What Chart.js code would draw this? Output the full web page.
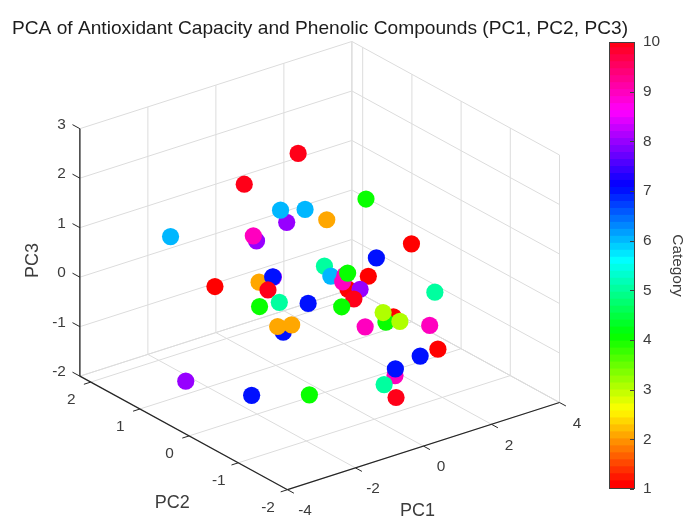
<!DOCTYPE html>
<html>
<head>
<meta charset="utf-8">
<script src="https://cdn.jsdelivr.net/npm/chart.js@4"></script>
<style>
html,body{margin:0;padding:0;background:#fff;overflow:hidden}
#wrap{position:relative;width:686px;height:517px}
canvas{position:absolute;top:0;filter:blur(0.45px)}
#main{left:0}
#bar{left:580px}
</style>
</head>
<body>
<div id="wrap">
<canvas id="main" width="640" height="517"></canvas>
<canvas id="bar" width="106" height="517"></canvas>
</div>
<script>
const TITLE = "PCA of Antioxidant Capacity and Phenolic Compounds (PC1, PC2, PC3)";
const PC1 = [-0.07,-1.51,-2.52,-0.84,-1.60,-0.01,-0.53,-0.57,-2.69,2.36,0.64,2.54,0.27,-0.99,0.38,1.45,-0.93,2.11,1.85,0.45,-0.60,-1.23,-2.81,-2.70,-1.97,-3.24,0.39,-1.06,0.08,-0.67,-1.81,0.63,-2.43,2.36,2.30,1.21,-0.03,1.91,0.31,1.05,2.16,1.06,0.32,0.62,-0.29,0.35,-2.74,-1.62,-3.23];
const PC2 = [0.5,0.6,1.4,0.2,-0.2,0.4,-0.4,1.0,-0.4,0.8,-0.6,0.0,0.2,-0.8,-0.2,0.6,-1.0,1.0,0.4,-0.4,-1.0,0.2,-0.6,-0.8,-0.2,0.0,1.2,0.6,0.4,-0.8,-0.4,1.4,-1.0,-0.6,0.2,-0.4,-1.2,-0.2,-0.6,-1.4,-0.8,-1.2,-1.2,-1.0,-1.4,-1.2,-0.4,-0.8,0.6];
const PC3 = [2.57,2.21,0.94,1.51,2.14,1.48,1.82,0.64,1.97,0.95,0.90,0.44,0.38,1.00,0.11,-0.28,0.98,-0.60,-0.28,0.20,0.56,0.49,1.17,1.36,0.61,0.85,-0.92,-0.36,-0.44,0.31,-0.17,-1.57,0.44,-0.17,-1.09,-0.63,0.27,-0.88,-0.42,-0.12,-1.17,-0.85,-1.08,-1.12,-1.02,-1.53,-1.24,-1.26,-1.39];
const CATEGORY = [10,10,6,8,6,6,2,8,9,4,7,1,5,6,1,9,9,4,1,8,10,8,2,7,10,1,5,4,7,4,7,2,2,5,1,4,3,3,9,9,1,7,9,7,5,10,7,4,8];
const PC1_TICKS = [-4,-2,0,2,4];
const PC2_TICKS = [-2,-1,0,1,2];
const PC3_TICKS = [-2,-1,0,1,2,3];
const BAR_TICKS = [1,2,3,4,5,6,7,8,9,10];
const PC1_LIM = [-4,4], PC2_LIM = [-2,2.22], PC3_LIM = [-2,3];

// orthographic view of the 3-D box, in page units
function proj(x,y,z){
  const u=x+4, v=y+2, w=z+2;
  return {x:287.5+34*u-49.2*v, y:489.7-10.9*u-26.9*v-49.5*w};
}
// MATLAB hsv colormap with 64 levels
function hsv64(i){
  const h=i/64*6, k=Math.floor(h), f=h-k;
  const rgb=[[1,f,0],[1-f,1,0],[0,1,f],[0,1-f,1],[f,0,1],[1,0,1-f]][k];
  return 'rgb('+rgb.map(c=>Math.round(c*255)).join(',')+')';
}
const catColor=c=>hsv64(Math.min(63,Math.floor((c-1)/9*64)));

const GRID='#dcdcdc', AXIS='#262626', TEXT='#3c3c3c', FONT='"Liberation Sans", Arial, sans-serif';
const segs=[];
function seg(a,b,color,w){
  segs.push({data:[proj(...a),proj(...b)],showLine:true,borderColor:color,borderWidth:w,pointRadius:0,clip:false,fill:false});
}
const [x0,x1]=PC1_LIM,[y0,y1]=PC2_LIM,[z0,z1]=PC3_LIM;
// grid on the two walls and the floor
for(const x of PC1_TICKS){ seg([x,y0,z0],[x,y1,z0],GRID,1); seg([x,y1,z0],[x,y1,z1],GRID,1); }
for(const y of PC2_TICKS){ seg([x0,y,z0],[x1,y,z0],GRID,1); seg([x1,y,z0],[x1,y,z1],GRID,1); }
for(const z of PC3_TICKS){ seg([x0,y1,z],[x1,y1,z],GRID,1); seg([x1,y1,z],[x1,y0,z],GRID,1); }
seg([x1,y1,z0],[x1,y1,z1],GRID,1);
seg([x0,y1,z0],[x1,y1,z0],GRID,1);
seg([x1,y0,z0],[x1,y1,z0],GRID,1);
// axes and tick marks
seg([x0,y1,z0],[x0,y1,z1],AXIS,1.3);
seg([x0,y1,z0],[x0,y0,z0],AXIS,1.3);
seg([x0,y0,z0],[x1,y0,z0],AXIS,1.3);
for(const z of PC3_TICKS) seg([x0,y1,z],[x0,y1+0.15,z],AXIS,1);
for(const y of PC2_TICKS) seg([x0,y,z0],[x0-0.2,y,z0],AXIS,1);
for(const x of PC1_TICKS) seg([x,y0,z0],[x,y0-0.13,z0],AXIS,1);
segs.reverse(); // Chart.js paints the first dataset last, so the axes stay above the grid

const points=PC1.map((x,i)=>proj(x,PC2[i],PC3[i]));

const axisText={id:'axisText',afterDraw(c){
  const g=c.ctx,sx=c.scales.x,sy=c.scales.y;
  const put=(t,p,dx,dy,align,rot,size)=>{
    g.save();
    g.translate(sx.getPixelForValue(p.x)+dx,sy.getPixelForValue(p.y)+dy);
    if(rot) g.rotate(rot);
    g.font=size+'px '+FONT; g.fillStyle=TEXT; g.textAlign=align; g.textBaseline='middle';
    g.fillText(t,0,0); g.restore();
  };
  PC1_TICKS.forEach(x=>put(String(x),proj(x,y0,z0),17.5,21,'center',0,15.4));
  PC2_TICKS.forEach(y=>put(String(y),proj(x0,y,z0),-19.5,18,'center',0,15.4));
  PC3_TICKS.forEach(z=>put(String(z),proj(x0,y1,z),-14,-4,'right',0,15.4));
  put('PC1',proj(0,y0,z0),-6,64.5,'center',0,18);
  put('PC2',proj(x0,0.11,z0),-11.5,70,'center',0,18);
  put('PC3',proj(x0,y1,0.5),-46.5,8,'center',-Math.PI/2,18);
}};

new Chart(document.getElementById('main'),{
  type:'scatter',
  data:{datasets:[
    {data:points,pointRadius:8.6,pointHoverRadius:8.6,borderWidth:0,pointBorderWidth:0,
     pointBackgroundColor:CATEGORY.map(catColor),showLine:false,clip:false},
    ...segs
  ]},
  options:{
    responsive:false,animation:false,events:[],
    layout:{padding:0,autoPadding:false},
    plugins:{
      legend:{display:false},tooltip:{enabled:false},
      title:{display:true,text:TITLE,color:'#1c1c1c',align:'center',
        font:{family:FONT,size:19.15,weight:'normal',lineHeight:'20px'},padding:{top:19,bottom:1}}
    },
    scales:{
      x:{type:'linear',min:0,max:640,display:false},
      y:{type:'linear',min:40,max:517,reverse:true,display:false}
    }
  },
  plugins:[axisText]
});

// colour bar
const LEVELS=Array.from({length:64},(_,i)=>i);
const barOutline={id:'barOutline',afterDraw(c){
  const g=c.ctx,a=c.chartArea,s=c.scales.y;
  g.save(); g.strokeStyle='#404040'; g.lineWidth=1;
  g.strokeRect(a.left+.5,a.top+.5,a.right-a.left-1,a.bottom-a.top-1);
  BAR_TICKS.forEach(t=>{const p=Math.round(s.getPixelForValue(t))+.5;
    g.beginPath(); g.moveTo(a.right-1,p); g.lineTo(a.right-5,p); g.stroke();});
  g.restore();
}};
new Chart(document.getElementById('bar'),{
  type:'bar',
  data:{labels:['Category'],datasets:LEVELS.map(i=>({
    data:[[1+i*9/64,Math.min(10,1+(i+1.2)*9/64)]],
    backgroundColor:hsv64(i),borderWidth:0,barPercentage:1,categoryPercentage:1,grouped:false
  }))},
  options:{
    responsive:false,animation:false,events:[],
    layout:{padding:{left:29,right:0,top:42,bottom:28},autoPadding:false},
    plugins:{legend:{display:false},tooltip:{enabled:false}},
    scales:{
      x:{display:false},
      y:{type:'linear',position:'right',min:1,max:10,
        afterBuildTicks(s){s.ticks=BAR_TICKS.map(v=>({value:v}));},
        afterFit(s){s.width=51;},
        grid:{display:false},border:{display:false},
        ticks:{color:TEXT,padding:0,font:{family:FONT,size:15.4},callback:v=>String(v)},
        title:{display:true,text:'Category',color:TEXT,font:{family:FONT,size:15.4},padding:{top:0,bottom:2}}
      }
    }
  },
  plugins:[barOutline]
});
</script>
</body>
</html>
